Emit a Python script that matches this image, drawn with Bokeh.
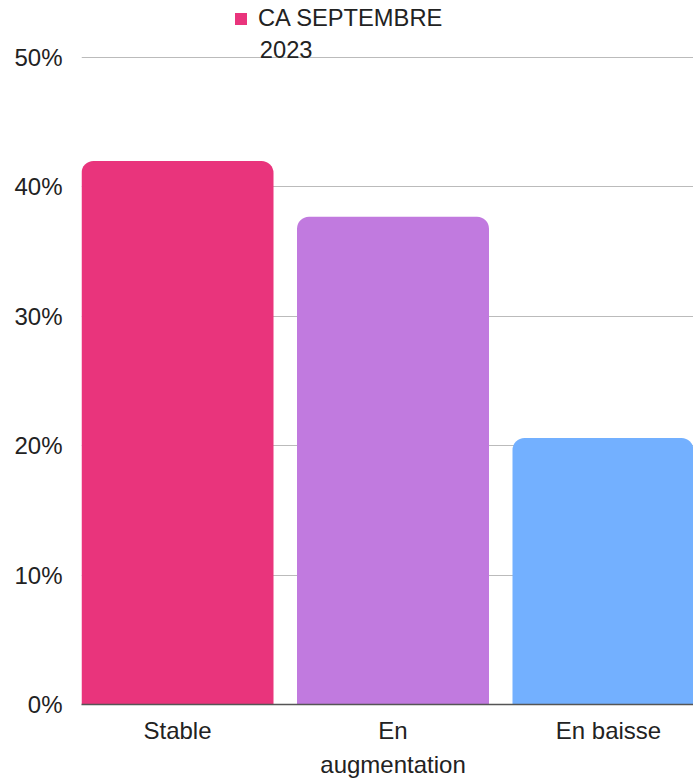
from bokeh.plotting import figure
from bokeh.models import (Range1d, FixedTicker, NumeralTickFormatter, Legend, LegendItem,
                          ColumnDataSource, Label)
from bokeh.embed import file_html
from bokeh.resources import INLINE

categories = ["Stable", "En augmentation", "En baisse"]
tick_labels = ["Stable", "En\naugmentation", "En baisse"]
values = [0.42, 0.377, 0.206]
colors = ["#E9347C", "#C17ADF", "#73B0FF"]
series_name = ["CA SEPTEMBRE", "2023"]
y_ticks = [0.0, 0.1, 0.2, 0.3, 0.4, 0.5]

FONT = "Liberation Sans"
TXT = "#222222"

positions = list(range(len(categories)))
src = ColumnDataSource(dict(x=positions, top=values, color=colors, cat=categories))

bar_w = 0.891
cat_px = 215.5
frame_w = 612
frame_h = 704
px_per_unit = 647 / 0.5
x_start = -bar_w / 2
x_end = x_start + frame_w / cat_px
y_end = frame_h / px_per_unit

p = figure(frame_width=frame_w, frame_height=frame_h, x_range=Range1d(x_start, x_end),
           y_range=Range1d(0, y_end), output_backend="svg", toolbar_location=None,
           min_border_left=81, min_border_right=0, min_border_top=0, min_border_bottom=74,
           outline_line_color=None)

r = p.vbar(x="x", top="top", width=bar_w, bottom=0, source=src, fill_color="color",
           line_color=None, border_radius=(12, 12, 0, 0))

p.xaxis.ticker = FixedTicker(ticks=positions)
p.xaxis.major_label_overrides = {i: lab for i, lab in zip(positions, tick_labels)}
p.xaxis.major_tick_line_color = None
p.xaxis.minor_tick_line_color = None
p.xaxis.major_tick_out = 0
p.xaxis.major_label_standoff = 12
p.xaxis.axis_line_color = "#555555"
p.xaxis.axis_line_width = 1.5
p.xaxis.major_label_text_font = FONT
p.xaxis.major_label_text_font_size = "24px"
p.xaxis.major_label_text_color = TXT
p.xaxis.major_label_text_line_height = 1.268

p.yaxis.ticker = FixedTicker(ticks=y_ticks)
p.yaxis.formatter = NumeralTickFormatter(format="0%")
p.yaxis.axis_line_color = None
p.yaxis.major_tick_line_color = None
p.yaxis.minor_tick_line_color = None
p.yaxis.major_tick_out = 0
p.yaxis.major_label_standoff = 19
p.yaxis.major_label_text_font = FONT
p.yaxis.major_label_text_font_size = "24px"
p.yaxis.major_label_text_color = TXT

p.xgrid.grid_line_color = None
p.ygrid.grid_line_color = "#BBBBBB"
p.ygrid.grid_line_width = 1
p.ygrid.ticker = FixedTicker(ticks=y_ticks)

legend = Legend(items=[LegendItem(label=series_name[0], renderers=[r], index=0)],
                location=(152, 672), padding=0, margin=0, spacing=0,
                border_line_color=None, background_fill_alpha=0,
                glyph_width=15, glyph_height=15, label_standoff=10,
                label_text_font=FONT, label_text_font_size="23.7px",
                label_text_color=TXT)
p.add_layout(legend)

label2 = Label(x=x_start + (259.3 - 81) / cat_px, y=(frame_h - 49) / px_per_unit,
               text=series_name[1], text_font=FONT, text_font_size="23.7px",
               text_color=TXT, text_baseline="alphabetic", text_align="left")
p.add_layout(label2)

open("out.html", "w").write(file_html(p, INLINE))
